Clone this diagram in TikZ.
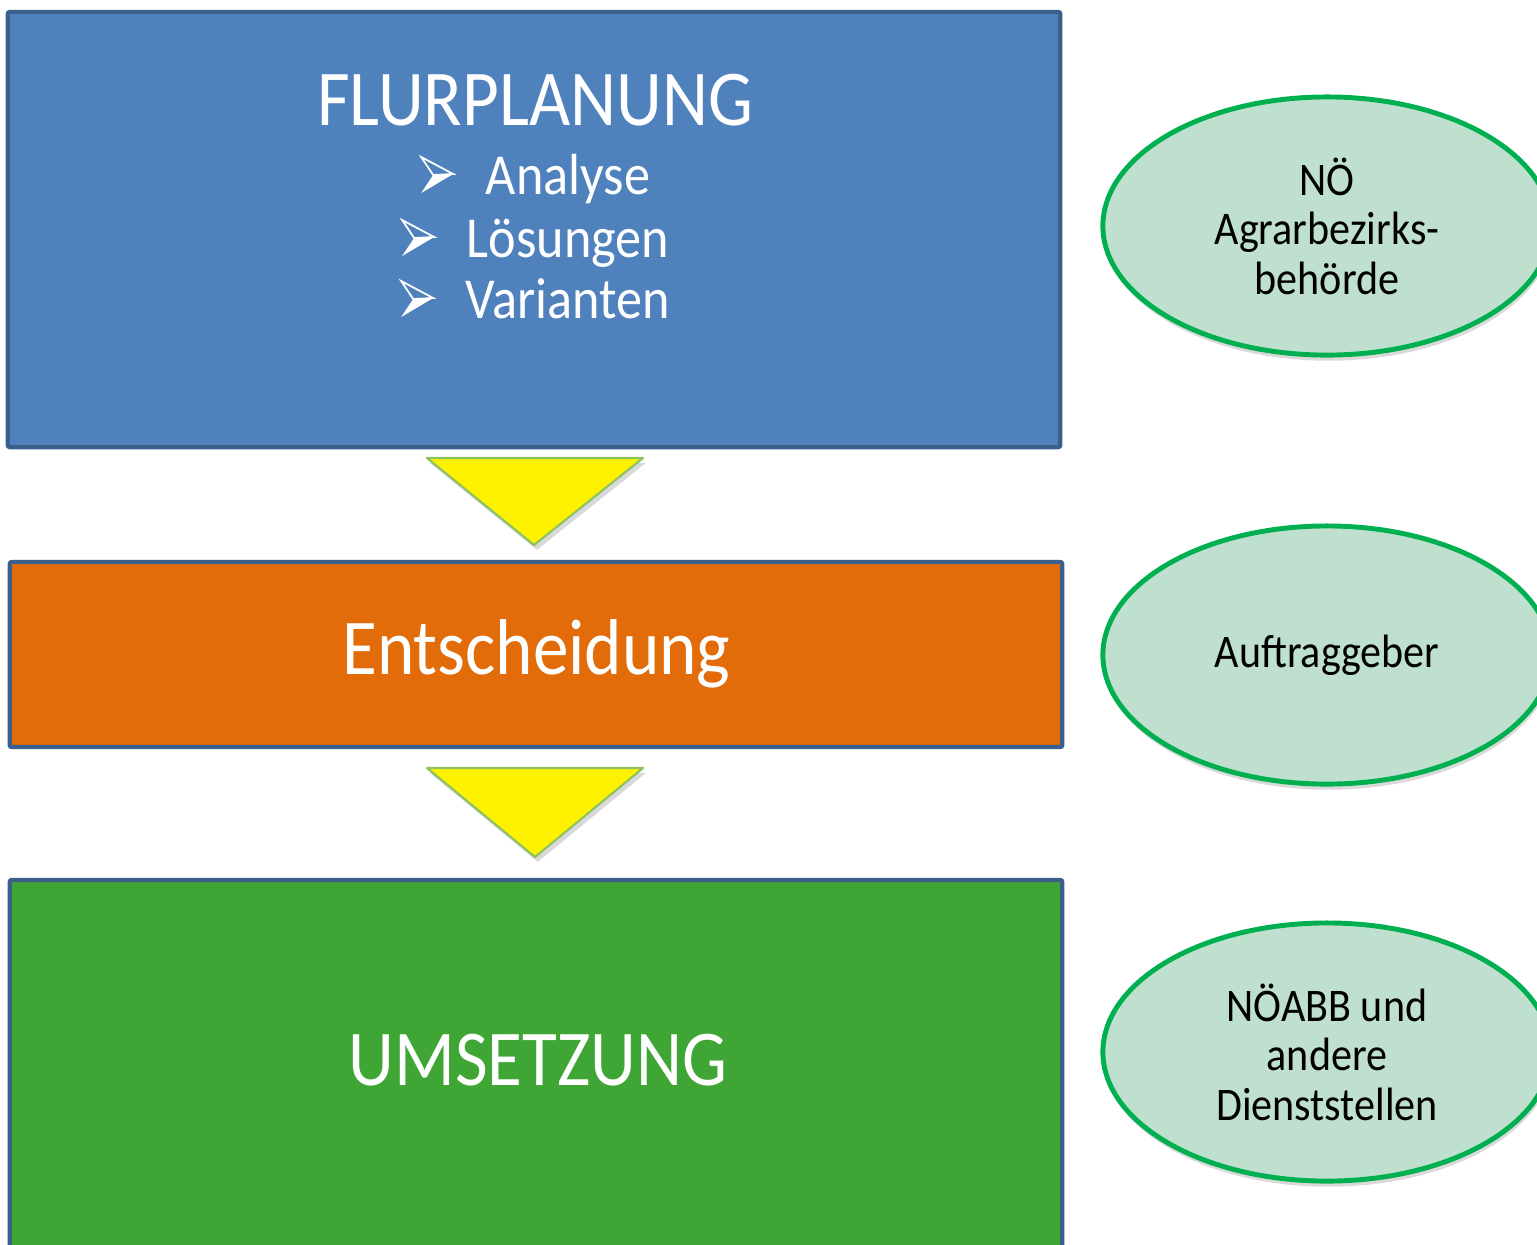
\documentclass[tikz,border=0pt]{standalone}
\usepackage{fontspec}
\setmainfont{Carlito}[FakeStretch=0.9]
\usetikzlibrary{shapes.geometric,shadows}

\definecolor{planblue}{HTML}{4F81BD}
\definecolor{frameblue}{HTML}{3A5F8B}
\definecolor{decisionorange}{HTML}{E36C0A}
\definecolor{actiongreen}{HTML}{3FA535}
\definecolor{bodyfill}{HTML}{BFE0CF}
\definecolor{bodyline}{HTML}{00B050}
\definecolor{pointerline}{HTML}{8DC261}

\tikzset{
  stage/.style={draw=frameblue, line width=1.2pt, rounded corners=0.6pt, inner sep=0pt},
  stagetext/.style={text=white, anchor=base, inner sep=0pt},
  body/.style={ellipse, draw=bodyline, fill=bodyfill, line width=1.4pt, inner sep=0pt,
    minimum width=4.48cm, minimum height=2.58cm, align=center,
    font=\fontsize{13.3}{14.1}\selectfont,
    drop shadow={opacity=0.3, shadow xshift=0.4pt, shadow yshift=-1.6pt}},
  pointer/.style={fill=yellow, draw=pointerline, line width=0.6pt, line join=round,
    drop shadow={opacity=0.3, shadow xshift=0.8pt, shadow yshift=-1.4pt}},
  bullet/.pic={
    \fill[white] (-52,-19) -- (-32,-20) -- (-64,-1) -- cycle;
    \draw[white, line width=.5pt, line join=miter] (-64,-37) -- (-32,-20) -- (-52,-19) -- cycle;
  }
}

\begin{document}
\begin{tikzpicture}[x=.01cm,y=-.01cm]
    \useasboundingbox (0,0) rectangle (1537,1244);
    \clip (0,0) rectangle (1537,1244);

    % stages
    \node[stage, fill=planblue, minimum width=10.52cm, minimum height=4.35cm] (plan) at (534,229.5) {};
    \node[stage, fill=decisionorange, minimum width=10.52cm, minimum height=1.85cm] (decision) at (536,654.5) {};
    \node[stage, fill=actiongreen, minimum width=10.52cm, minimum height=4cm] (action) at (536,1080) {};

    \node[stagetext, font=\fontsize{22.5}{27}\selectfont] (plantitle) at (535,125) {FLURPLANUNG};
    \foreach \word/\ypos [count=\i] in {Analyse/194, Lösungen/257, Varianten/318} {
        \node[stagetext, font=\fontsize{16.5}{18}\selectfont] (planitem\i) at (568,\ypos) {\word};
        \pic at (planitem\i.base west) {bullet};
    }
    \node[stagetext, font=\fontsize{22.5}{27}\selectfont] (decisiontext) at (536.5,674) {Entscheidung};
    \node[stagetext, font=\fontsize{22.5}{27}\selectfont] (actiontext) at (538,1085) {UMSETZUNG};

    % pointers
    \draw[pointer] (427,458) -- (643,458) -- (534,545) -- cycle;
    \draw[pointer] (427,768) -- (643,768) -- (535,857) -- cycle;

    % bodies
    \node[body] (abb) at (1327,226) {NÖ\\Agrarbezirks-\\behörde};
    \node[body] (client) at (1327,655) {Auftraggeber};
    \node[body] (offices) at (1327,1052) {NÖABB und\\andere\\Dienststellen};
\end{tikzpicture}
\end{document}
